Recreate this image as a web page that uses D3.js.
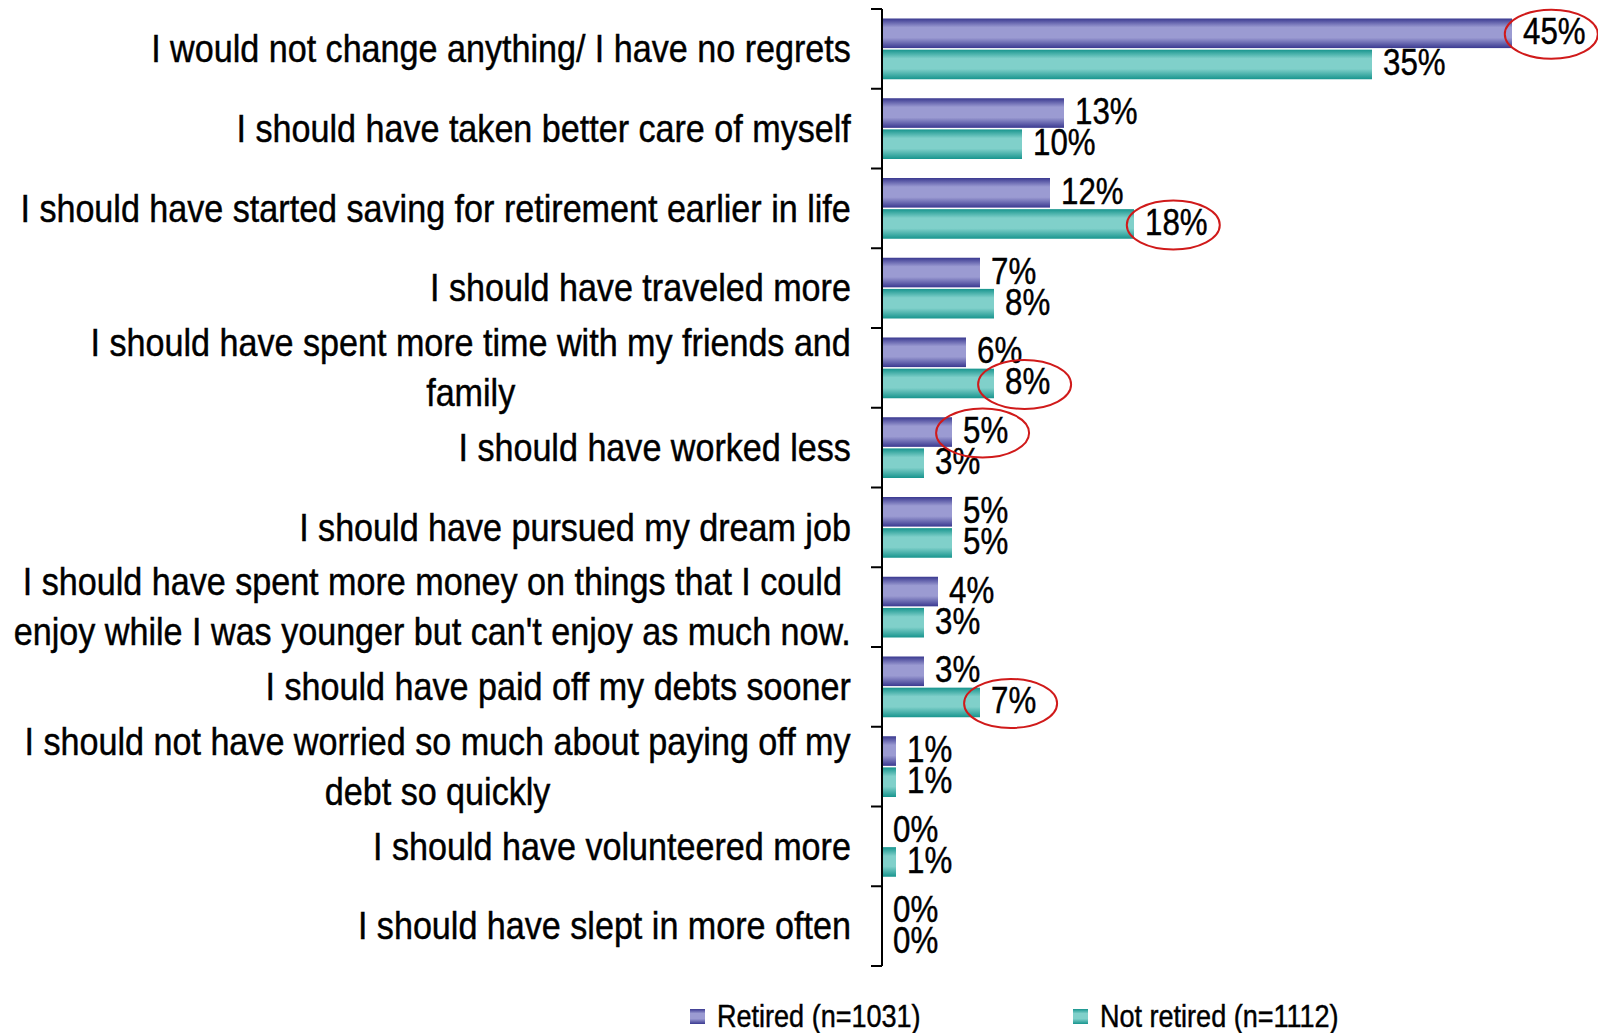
<!DOCTYPE html>
<html>
<head>
<meta charset="utf-8">
<script src="https://cdn.jsdelivr.net/npm/d3@7"></script>
<style>
  html, body { margin: 0; padding: 0; background: #fff; }
  svg { display: block; }
  text { font-family: "Liberation Sans", Arial, sans-serif; fill: #000; stroke: #000; stroke-width: 0.45; }
</style>
</head>
<body>
<svg id="chart"></svg>
<script>
const categories = [
  ["I would not change anything/ I have no regrets"],
  ["I should have taken better care of myself"],
  ["I should have started saving for retirement earlier in life"],
  ["I should have traveled more"],
  ["I should have spent more time with my friends and", "family"],
  ["I should have worked less"],
  ["I should have pursued my dream job"],
  ["I should have spent more money on things that I could", "enjoy while I was younger but can't enjoy as much now."],
  ["I should have paid off my debts sooner"],
  ["I should not have worried so much about paying off my", "debt so quickly"],
  ["I should have volunteered more"],
  ["I should have slept in more often"]
];
const retired = [45, 13, 12, 7, 6, 5, 5, 4, 3, 1, 0, 0];
const notRetired = [35, 10, 18, 8, 8, 3, 5, 3, 7, 1, 1, 0];
const seriesNames = ["Retired (n=1031)", "Not retired (n=1112)"];
// circled values: [category index, series index]
const highlights = [[0, 0], [2, 1], [4, 1], [5, 0], [8, 1]];

const width = 1598, height = 1033;
const axisX = 882, plotTop = 9, plotBottom = 966;
const narrow = 0.845;      // squeeze Liberation Sans to look like a narrow face
const narrowCat = 0.875;

const svg = d3.select("#chart").attr("width", width).attr("height", height);

const defs = svg.append("defs");
const grads = [
  { id: "gRet", edge: "#3a3990", mid: "#9b9bd2" },
  { id: "gNot", edge: "#18958e", mid: "#80d0ca" }
];
grads.forEach(g => {
  const lg = defs.append("linearGradient").attr("id", g.id)
    .attr("x1", 0).attr("y1", 0).attr("x2", 0).attr("y2", 1);
  lg.append("stop").attr("offset", "0%").attr("stop-color", g.edge);
  lg.append("stop").attr("offset", "30%").attr("stop-color", g.mid);
  lg.append("stop").attr("offset", "65%").attr("stop-color", g.mid);
  lg.append("stop").attr("offset", "100%").attr("stop-color", g.edge);
});

const x = d3.scaleLinear().domain([0, 45]).range([axisX, axisX + 630]);
const y0 = d3.scaleBand().domain(d3.range(categories.length)).range([plotTop, plotBottom]);
const y1 = d3.scaleBand().domain([0, 1]).range([9.5, y0.bandwidth() - 9.5]).paddingInner(0.05);

const rows = categories.map((c, i) => ({ i, lines: c, vals: [retired[i], notRetired[i]] }));

// bars
const g = svg.append("g");
const row = g.selectAll("g.row").data(rows).join("g")
  .attr("class", "row")
  .attr("transform", d => `translate(0,${y0(d.i)})`);

row.selectAll("rect").data(d => d.vals.map((v, s) => ({ v, s })))
  .join("rect")
  .attr("x", x(0))
  .attr("y", d => y1(d.s))
  .attr("width", d => x(d.v) - x(0))
  .attr("height", y1.bandwidth())
  .attr("fill", d => d.s === 0 ? "url(#gRet)" : "url(#gNot)");

const valLabels = row.selectAll("text.val").data(d => d.vals.map((v, s) => ({ v, s, i: d.i })))
  .join("text")
  .attr("class", "val")
  .attr("transform", d => `translate(${x(d.v) + 11},${y1(d.s) + y1.bandwidth() / 2 - 2}) scale(${narrow},1)`)
  .attr("dominant-baseline", "central")
  .attr("font-size", 37)
  .text(d => d.v + "%");

// ellipses around highlighted values
valLabels.each(function (d) {
  if (!highlights.some(h => h[0] === d.i && h[1] === d.s)) return;
  const w = this.getBBox().width * narrow;
  d3.select(this.parentNode).append("ellipse")
    .attr("cx", x(d.v) + 11 + w / 2 - 3)
    .attr("cy", y1(d.s) + y1.bandwidth() / 2 + 1)
    .attr("rx", 46.5)
    .attr("ry", 24.5)
    .attr("fill", "none")
    .attr("stroke", "#d01a1a")
    .attr("stroke-width", 2);
});

// axis
const axis = svg.append("g");
axis.append("line")
  .attr("x1", axisX).attr("x2", axisX)
  .attr("y1", plotTop).attr("y2", plotBottom)
  .attr("stroke", "#000").attr("stroke-width", 2);
axis.selectAll("line.tick").data(d3.range(categories.length + 1)).join("line")
  .attr("class", "tick")
  .attr("x1", axisX - 11).attr("x2", axisX)
  .attr("y1", i => i < categories.length ? y0(i) : plotBottom)
  .attr("y2", i => i < categories.length ? y0(i) : plotBottom)
  .attr("stroke", "#000").attr("stroke-width", 2);

// category labels (multi-line ones are centred as a block)
const lineH = 50;
const labelRight = 851;
rows.forEach(d => {
  const t = svg.append("text")
    .attr("font-size", 39)
    .attr("text-anchor", "middle");
  const n = d.lines.length;
  const cy = y0(d.i) + y0.bandwidth() / 2;
  d.lines.forEach((l, k) => {
    t.append("tspan")
      .attr("x", 0)
      .attr("y", cy + (k - (n - 1) / 2) * lineH)
      .attr("dominant-baseline", "central")
      .text(l);
  });
  const w = t.node().getBBox().width * narrowCat;
  t.attr("transform", `translate(${labelRight - w / 2},0) scale(${narrowCat},1)`);
});

// legend
const legend = svg.append("g");
const legendX = [690, 1073];
seriesNames.forEach((name, s) => {
  legend.append("rect")
    .attr("x", legendX[s]).attr("y", 1009)
    .attr("width", 15).attr("height", 15)
    .attr("fill", s === 0 ? "url(#gRet)" : "url(#gNot)");
  legend.append("text")
    .attr("transform", `translate(${legendX[s] + 27},1016) scale(${narrow},1)`)
    .attr("dominant-baseline", "central")
    .attr("font-size", 32)
    .text(name);
});
</script>
</body>
</html>
